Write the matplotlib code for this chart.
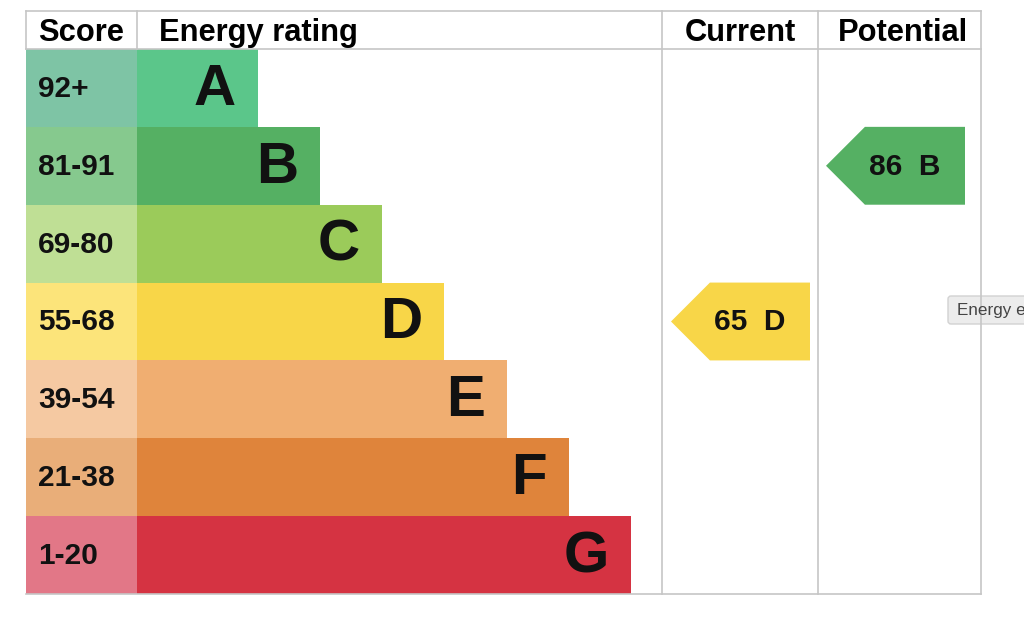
import matplotlib
matplotlib.use('Agg')
import matplotlib.pyplot as plt
from matplotlib.patches import Polygon, FancyBboxPatch

# EPC bands
bands = ['A', 'B', 'C', 'D', 'E', 'F', 'G']
score_ranges = ['92+', '81-91', '69-80', '55-68', '39-54', '21-38', '1-20']
band_min = [92, 81, 69, 55, 39, 21, 1]
bar_len = [121, 183, 245, 307, 370, 432, 494]
score_colors = ['#7ec4a5', '#86c98e', '#bfdf95', '#fce47a', '#f5c9a2', '#e9ae79', '#e27787']
bar_colors = ['#5bc68a', '#55b063', '#9bcb5a', '#f8d648', '#f0ae71', '#df843b', '#d53342']

current = 65
potential = 86

plt.rcParams['font.family'] = ['Liberation Sans', 'DejaVu Sans']

fig = plt.figure(figsize=(10.24, 6.34), dpi=100)
ax = fig.add_axes([0, 0, 1, 1])
ax.set_xlim(0, 1024)
ax.set_ylim(634, 0)
ax.axis('off')

left, right = 26, 981
top, head_bot, bottom = 11, 49, 594
score_w = 111
col_cur, col_pot = 662, 818
row_h = (bottom - head_bot) / len(bands)
grid = '#c6c6c6'

centers = [head_bot + row_h * (i + 0.5) for i in range(len(bands))]

ax.barh(centers, [score_w] * len(bands), left=left, height=row_h, color=score_colors)
ax.barh(centers, bar_len, left=left + score_w, height=row_h, color=bar_colors)

for i, b in enumerate(bands):
    ax.text(38, centers[i] + 1, score_ranges[i], fontsize=21.5, fontweight='bold',
            ha='left', va='center', color='#111')
    ax.text(left + score_w + bar_len[i] - 22, centers[i] + 2, b, fontsize=42,
            fontweight='bold', ha='right', va='center', color='#111')

# grid lines
lw = 1.2
ax.plot([left, right], [top, top], color=grid, lw=lw)
ax.plot([left, right], [head_bot, head_bot], color=grid, lw=lw)
ax.plot([left, right], [bottom, bottom], color=grid, lw=lw)
ax.plot([left, left], [top, head_bot], color=grid, lw=lw)
ax.plot([left + score_w, left + score_w], [top, head_bot], color=grid, lw=lw)
for x in (col_cur, col_pot, right):
    ax.plot([x, x], [top, bottom], color=grid, lw=lw)

# headers
hy = 33
ax.text(38, hy, 'Score', fontsize=22.2, fontweight='bold', ha='left', va='center')
ax.text(159, hy, 'Energy rating', fontsize=22.2, fontweight='bold', ha='left', va='center')
ax.text((col_cur + col_pot) / 2, hy, 'Current', fontsize=22.2, fontweight='bold', ha='center', va='center')
ax.text((col_pot + right) / 2 + 3, hy, 'Potential', fontsize=22.2, fontweight='bold', ha='center', va='center')


def band_of(v):
    for i, m in enumerate(band_min):
        if v >= m:
            return i
    return len(bands) - 1


def arrow(value, x0, x1):
    i = band_of(value)
    yt = head_bot + row_h * i
    yb = yt + row_h
    yc = (yt + yb) / 2
    notch = x0 + row_h / 2
    poly = Polygon([(x0, yc), (notch, yt), (x1, yt), (x1, yb), (notch, yb)],
                   closed=True, facecolor=bar_colors[i], edgecolor='none')
    ax.add_patch(poly)
    ax.text(x1 - 60, yc + 1, '%d  %s' % (value, bands[i]), fontsize=21.5,
            fontweight='bold', ha='center', va='center', color='#111')


arrow(current, 671, 810)
arrow(potential, 826, 965)

# tooltip from the screenshot
tip = FancyBboxPatch((948, 296), 120, 28, boxstyle='round,pad=0,rounding_size=3',
                     facecolor='#ececec', edgecolor='#d2d2d2', lw=1)
ax.add_patch(tip)
ax.text(957, 310, 'Energy e', fontsize=12.3, ha='left', va='center', color='#444')

fig.savefig('out.png', dpi=100)
